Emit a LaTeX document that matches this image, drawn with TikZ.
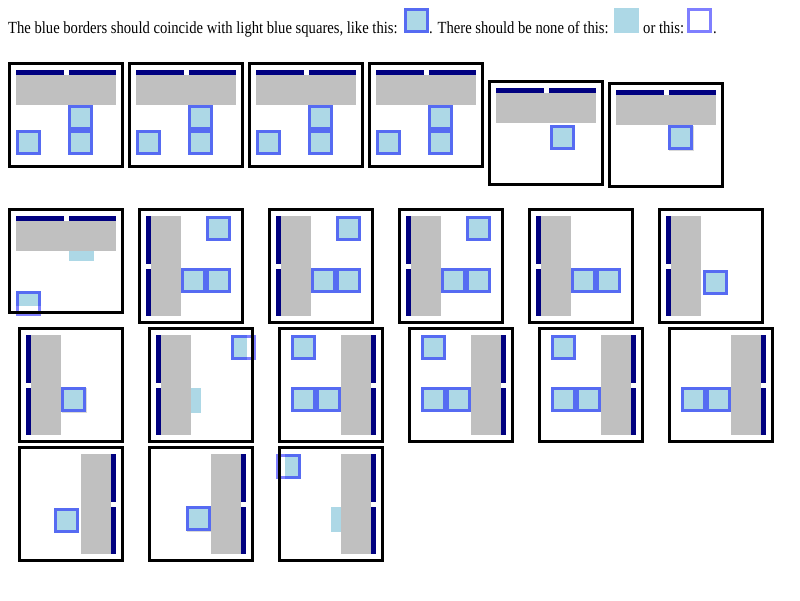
\documentclass[tikz,border=0pt]{standalone}
\usepackage{fontspec}
\setmainfont{Liberation Serif}
\newfontfamily\notefont[FakeStretch=0.86]{Liberation Serif}
\definecolor{barnavy}{RGB}{0,0,128}
\definecolor{slabgray}{RGB}{192,192,192}
\definecolor{sqblue}{RGB}{173,216,230}

\newcommand{\horizslab}[2]{%
  \fill[barnavy] (#1+8,#2+8) rectangle ++(48,5);
  \fill[barnavy] (#1+61,#2+8) rectangle ++(47,5);
  \fill[slabgray] (#1+8,#2+13) rectangle ++(100,30);}
\newcommand{\leftslab}[2]{%
  \fill[barnavy] (#1+8,#2+8) rectangle ++(5,48);
  \fill[barnavy] (#1+8,#2+61) rectangle ++(5,47);
  \fill[slabgray] (#1+13,#2+8) rectangle ++(30,100);}
\newcommand{\rightslab}[2]{%
  \fill[barnavy] (#1+93,#2+8) rectangle ++(5,48);
  \fill[barnavy] (#1+93,#2+61) rectangle ++(5,47);
  \fill[slabgray] (#1+63,#2+8) rectangle ++(30,100);}
\newcommand{\ringsq}[2]{\draw[ring] (#1+1.5,#2+1.5) rectangle ++(22,22);}
\newcommand{\matchsq}[2]{\fill[sqblue] (#1,#2) rectangle ++(25,25); \ringsq{#1}{#2}}

\begin{document}
\begin{tikzpicture}[x=1pt, y=-1pt,
    frame/.style={draw=black, line width=3pt},
    ring/.style={draw=blue, draw opacity=0.5, line width=3pt},
    caption/.style={font=\notefont\fontsize{17}{20}\selectfont, anchor=base west, inner sep=0pt}]
    \useasboundingbox[fill=white] (0,0) rectangle (800,600);

    \node[caption] (intro) at (8,33.5) {The blue borders should coincide with light blue squares, like this:};
    \matchsq{404}{8}
    \node[caption] (none) at (429,33.5) {. There should be none of this:};
    \fill[sqblue] (614,8) rectangle ++(25,25);
    \node[caption] (orthis) at (643,33.5) {or this:};
    \ringsq{687}{8}
    \node[caption] (stop) at (713,33.5) {.};

    \foreach \x/\y in {8/62,128/62,248/62,368/62,488/80,608/82,8/208}
        \horizslab{\x}{\y};
    \foreach \x/\y in {138/208,268/208,398/208,528/208,658/208,18/327,148/327}
        \leftslab{\x}{\y};
    \foreach \x/\y in {278/327,408/327,538/327,668/327,18/446,148/446,278/446}
        \rightslab{\x}{\y};

    \foreach \x/\y in {669/126,62/388,187/507}
        \fill[slabgray, opacity=0.6] (\x,\y) rectangle ++(25,25);
    \foreach \x/\y in {16/130,68/105,68/130,136/130,188/105,188/130,256/130,308/105,308/130,
        376/130,428/105,428/130,550/125,668/125,206/216,181/268,206/268,336/216,311/268,336/268,
        466/216,441/268,466/268,571/268,596/268,703/270,61/387,291/335,291/387,316/387,
        421/335,421/387,446/387,551/335,551/387,576/387,681/387,706/387,54/508,186/506}
        \matchsq{\x}{\y};

    \fill[sqblue] (69,251) rectangle ++(25,10);
    \fill[sqblue] (16,291) rectangle ++(25,15);
    \fill[sqblue] (191,388) rectangle ++(10,25);
    \fill[sqblue] (231,335) rectangle ++(16,25);
    \fill[sqblue] (331,507) rectangle ++(10,25);
    \fill[sqblue] (285,454) rectangle ++(16,25);
    \ringsq{16}{291}
    \ringsq{231}{335}
    \ringsq{276}{454}

    \foreach \x/\y in {8/62,128/62,248/62,368/62,488/80,608/82,8/208}
        \draw[frame] (\x+1.5,\y+1.5) rectangle ++(113,103);
    \foreach \x/\y in {138/208,268/208,398/208,528/208,658/208,18/327,148/327,278/327,
        408/327,538/327,668/327,18/446,148/446,278/446}
        \draw[frame] (\x+1.5,\y+1.5) rectangle ++(103,113);
\end{tikzpicture}
\end{document}
